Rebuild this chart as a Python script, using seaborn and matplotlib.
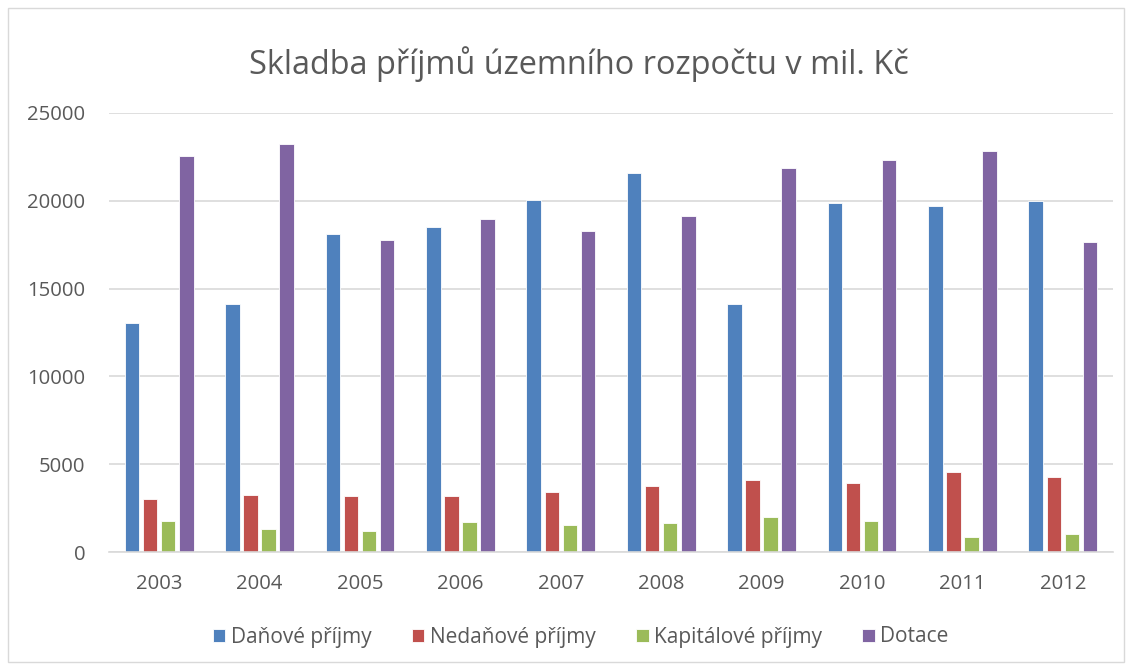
import matplotlib
matplotlib.use("Agg")
import matplotlib.pyplot as plt
from matplotlib.patches import Rectangle
import seaborn as sns
import pandas as pd

years = ["2003", "2004", "2005", "2006", "2007", "2008", "2009", "2010", "2011", "2012"]
danove = [13050, 14150, 18110, 18510, 20050, 21600, 14100, 19890, 19700, 19990]
nedanove = [3040, 3250, 3190, 3190, 3400, 3740, 4100, 3930, 4540, 4250]
kapitalove = [1770, 1290, 1200, 1710, 1540, 1670, 1990, 1750, 850, 1040]
dotace = [22550, 23240, 17750, 18960, 18280, 19150, 21870, 22340, 22820, 17640]
series_names = ["Daňové příjmy", "Nedaňové příjmy", "Kapitálové příjmy", "Dotace"]
colors = ["#4F81BD", "#C0504D", "#9BBB59", "#8064A2"]

rows = []
for name, vals in zip(series_names, [danove, nedanove, kapitalove, dotace]):
    for y, v in zip(years, vals):
        rows.append({"Rok": y, "Série": name, "Hodnota": v})
df = pd.DataFrame(rows)

sns.set_theme(style="white")
plt.rcParams["font.family"] = ["Open Sans", "DejaVu Sans"]

fig = plt.figure(figsize=(11.32, 6.68), dpi=100)
ax = fig.add_axes([109 / 1132, 116 / 668, 1004 / 1132, 439 / 668])

sns.barplot(data=df, x="Rok", y="Hodnota", hue="Série", hue_order=series_names,
            palette=colors, width=0.72, gap=0.2, saturation=1, ax=ax,
            edgecolor="white", linewidth=0.6, legend=True)

ax.set_xlim(-0.5, 9.5)
ax.set_ylim(0, 25000)
ax.set_yticks([0, 5000, 10000, 15000, 20000, 25000])
ax.yaxis.grid(True, color="#D9D9D9", linewidth=1.2)
ax.set_axisbelow(True)
for s in ["top", "right", "left"]:
    ax.spines[s].set_visible(False)
ax.spines["bottom"].set_color("#D9D9D9")
ax.spines["bottom"].set_linewidth(1.2)
ax.tick_params(axis="both", length=0, labelsize=14.6, colors="#595959")
ax.tick_params(axis="x", pad=15.5)
ax.tick_params(axis="y", pad=17)
ax.set_xlabel("")
ax.set_ylabel("")

fig.text(0.511, 1 - 64 / 668, "Skladba příjmů územního rozpočtu v mil. Kč",
         ha="center", va="center", fontsize=23.4, color="#595959")

handles, labels = ax.get_legend_handles_labels()
ax.get_legend().remove()
fig.legend(handles, labels, loc="center", bbox_to_anchor=(0.513, 1 - 637 / 668),
           ncol=4, frameon=False, fontsize=15, handlelength=0.6, handleheight=0.6,
           handletextpad=0.25, columnspacing=1.95, labelcolor="#595959")

fig.patches.append(Rectangle((8 / 1132, 6 / 668), 1116 / 1132, 654 / 668,
                             transform=fig.transFigure, fill=False,
                             edgecolor="#D9D9D9", linewidth=1))

fig.savefig("out.png", dpi=100)
